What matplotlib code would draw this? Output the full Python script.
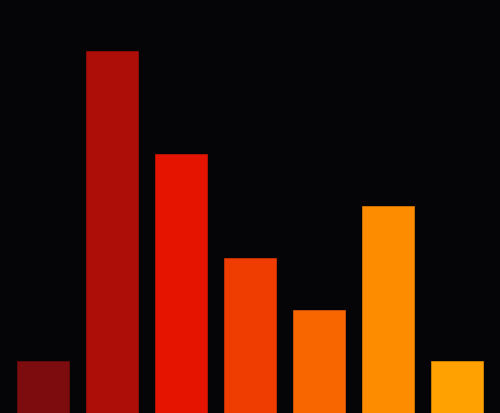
import matplotlib
matplotlib.use('Agg')
import matplotlib.pyplot as plt

categories = ['A', 'B', 'C', 'D', 'E', 'F', 'G']
values = [1, 7, 5, 3, 2, 4, 1]
colors = ['#7d0c0e', '#ad0f08', '#e51400', '#ef3c00', '#f86600', '#fe8c00', '#ffa100']
edges = ['#6e0a0c', '#9c0d07', '#d01200', '#d83600', '#e05c00', '#e57e00', '#e69100']

fig = plt.figure(figsize=(5.0, 4.14), dpi=100)
fig.patch.set_facecolor('#050508')
ax = fig.add_axes([0, 0, 1, 1])
ax.set_facecolor('#050508')

xs = range(len(categories))
ax.bar(xs, values, width=0.745, color=colors, edgecolor=edges, linewidth=0.5)

ax.set_xlim(-0.623, 6.623)
ax.set_ylim(0, 8.0)
ax.axis('off')

fig.savefig('out.png', dpi=100, facecolor=fig.get_facecolor())
